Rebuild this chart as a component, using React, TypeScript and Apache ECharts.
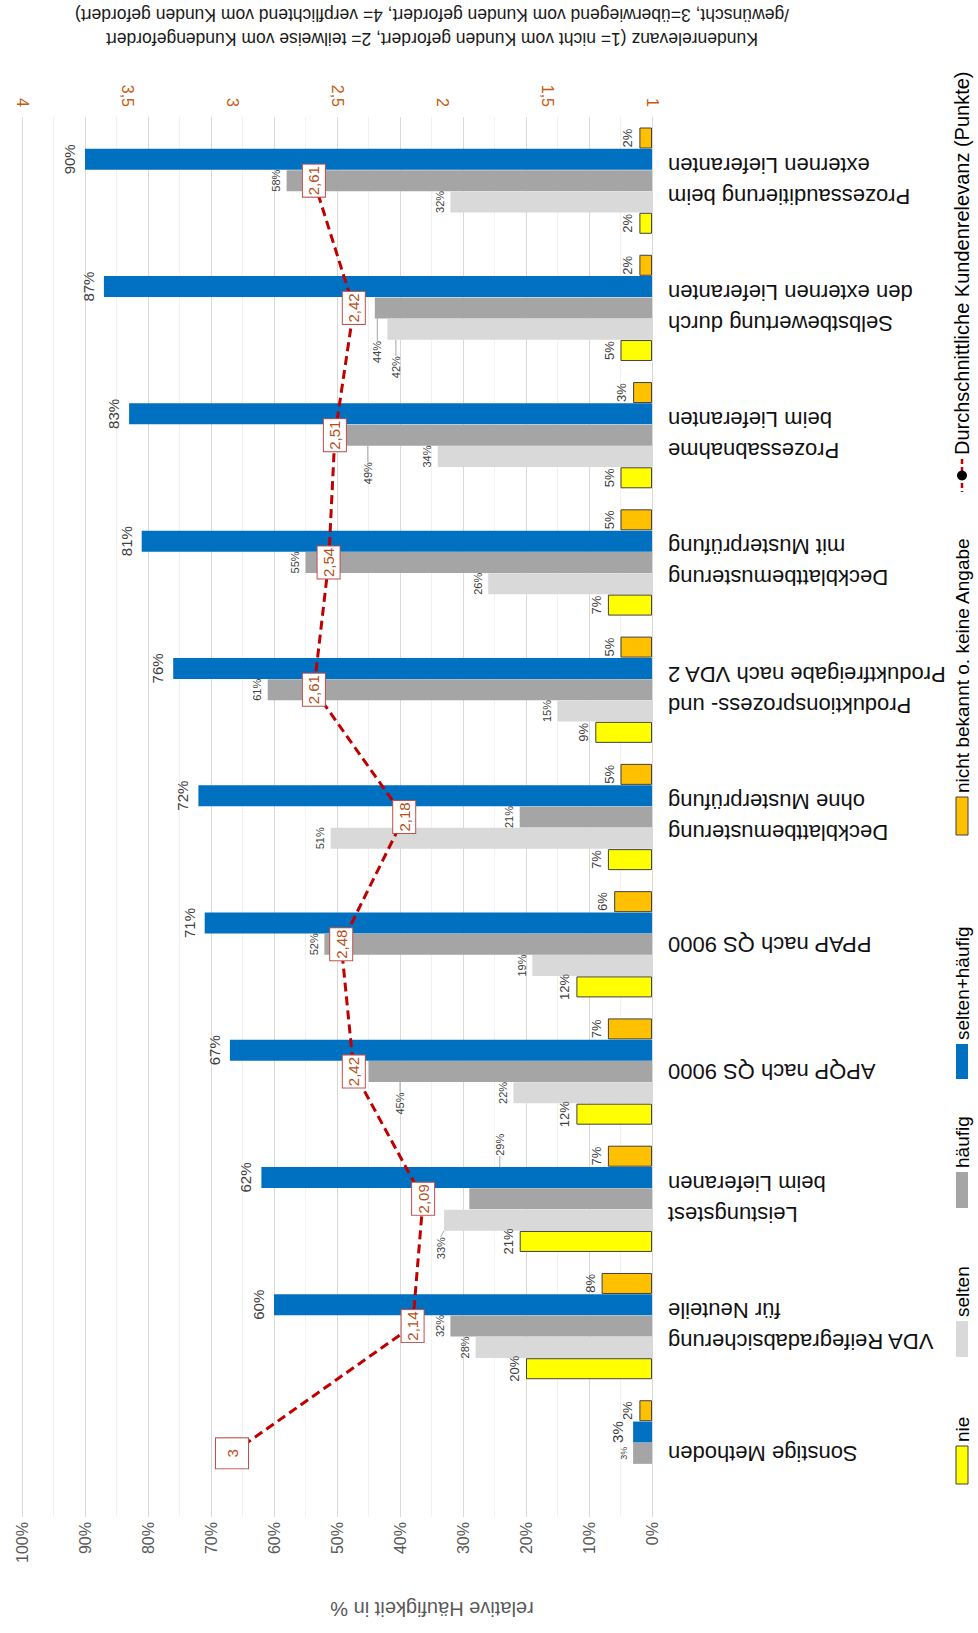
import React, { useEffect, useRef } from "react";
import * as echarts from "echarts";

// ---------- data (category order: bottom -> top) ----------
const categories = [
  "Sonstige Methoden",
  "VDA Reifegradabsicherung\nfür Neuteile",
  "Leistungstest\nbeim Lieferanen",
  "APQP nach QS 9000",
  "PPAP nach QS 9000",
  "Deckblattbemusterung\nohne Musterprüfung",
  "Produktionsprozess- und\nProduktfreigabe nach VDA 2",
  "Deckblattbemusterung\nmit Musterprüfung",
  "Prozessabnahme\nbeim Lieferanten",
  "Selbstbewertung durch\nden externen Lieferanten",
  "Prozessauditierung beim\nexternen Lieferanten",
];
const nie = [null, 20, 21, 12, 12, 7, 9, 7, 5, 5, 2];
const selten = [null, 28, 33, 22, 19, 51, 15, 26, 34, 42, 32];
const haeufig = [3, 32, 29, 45, 52, 21, 61, 55, 49, 44, 58];
const seltenHaeufig = [3, 60, 62, 67, 71, 72, 76, 81, 83, 87, 90];
const nichtBekannt = [2, 8, 7, 7, 6, 5, 5, 5, 3, 2, 2];
const kundenrelevanz = [3, 2.14, 2.09, 2.42, 2.48, 2.18, 2.61, 2.54, 2.51, 2.42, 2.61];

const pctTicks = { min: 0, max: 100, interval: 10 };
const pointTicks = { min: 1, max: 4, interval: 0.5 };

const seriesNames = [
  "nicht bekannt o. keine Angabe",
  "selten+häufig",
  "häufig",
  "selten",
  "nie",
];
const lineName = "Durchschnittliche Kundenrelevanz (Punkte)";

// ---------- styling ----------
const FONT = "Liberation Sans";
const colors = {
  nb: "#FFC000",
  sh: "#0070C0",
  h: "#A5A5A5",
  s: "#D9D9D9",
  n: "#FFFF00",
  line: "#C00000",
};

// screen displacement [right, down] (px) of labels moved with leader lines
const labelOffsets: Record<number, Record<number, [number, number]>> = {
  2: { 9: [13, 44], 8: [35, 38], 3: [42, 32], 2: [41, -54] },
  3: { 9: [19, 38], 2: [7, 28] },
};

const comma = (v: number) => String(v).replace(".", ",");

function withLeader(arr: (number | null)[], sIdx: number, extra?: Record<number, any>) {
  return arr.map((v, i) => {
    const moved = labelOffsets[sIdx] && labelOffsets[sIdx][i];
    const ex = extra && extra[i];
    if (!moved && !ex) return v;
    const item: any = { value: v };
    if (moved) item.labelLine = { show: true };
    if (ex) Object.assign(item, ex);
    return item;
  });
}

function barLabel(fontSize: number, distance = 5) {
  return {
    show: true,
    position: "left",
    rotate: 90,
    align: "center",
    verticalAlign: "bottom",
    distance,
    formatter: "{c}%",
    color: "#404040",
    fontFamily: FONT,
    fontSize,
  };
}

export default function App() {
  const ref = useRef<HTMLDivElement>(null);

  useEffect(() => {
    if (!ref.current) return;
    const chart = echarts.init(ref.current, undefined, { renderer: "svg" });

    const legendItems = [
      { name: lineName, kind: "line", keyTop: 459, keyBottom: 492, fontSize: 20 },
      { name: seriesNames[0], color: colors.nb, border: true, keyTop: 797, keyBottom: 835 },
      { name: seriesNames[1], color: colors.sh, keyTop: 1044, keyBottom: 1079 },
      { name: seriesNames[2], color: colors.h, keyTop: 1172, keyBottom: 1208 },
      { name: seriesNames[3], color: colors.s, keyTop: 1321, keyBottom: 1357 },
      { name: seriesNames[4], color: colors.n, border: true, keyTop: 1446, keyBottom: 1484 },
    ];
    const legendX = 962;
    const graphics: any[] = [];
    legendItems.forEach((it: any) => {
      if (it.kind === "line") {
        graphics.push({
          type: "line",
          shape: { x1: legendX, y1: it.keyTop, x2: legendX, y2: it.keyBottom },
          style: { stroke: colors.line, lineWidth: 2.5, lineDash: [5, 3] },
        });
        graphics.push({
          type: "circle",
          shape: { cx: legendX, cy: (it.keyTop + it.keyBottom) / 2, r: 5 },
          style: { fill: "#000" },
        });
      } else {
        graphics.push({
          type: "rect",
          shape: { x: legendX - 6, y: it.keyTop, width: 12, height: it.keyBottom - it.keyTop },
          style: {
            fill: it.color,
            stroke: it.border ? "#404040" : null,
            lineWidth: it.border ? 1 : 0,
          },
        });
      }
      graphics.push({
        type: "text",
        x: legendX,
        y: it.keyTop - 4,
        rotation: Math.PI / 2,
        style: {
          text: it.name,
          fontFamily: FONT,
          fontSize: it.fontSize || 19,
          fill: "#000",
          align: "left",
          verticalAlign: "middle",
        },
      });
    });
    // axis titles (upside down as in the reference)
    graphics.push({
      type: "text",
      x: 432,
      y: 27,
      rotation: Math.PI,
      style: {
        text:
          "Kundenrelevanz (1= nicht vom Kunden gefordert, 2= teilweise vom Kundengefordert\n/gewünscht, 3=überwiegend vom Kunden gefordert, 4= verpflichtend vom Kunden gefordert)",
        fontFamily: FONT,
        fontSize: 17.5,
        lineHeight: 24,
        fill: "#1a1a1a",
        align: "center",
        verticalAlign: "middle",
      },
    });
    graphics.push({
      type: "text",
      x: 432,
      y: 1609,
      rotation: Math.PI,
      style: {
        text: "relative Häufigkeit in %",
        fontFamily: FONT,
        fontSize: 20,
        fill: "#595959",
        align: "center",
        verticalAlign: "middle",
      },
    });

    const barCommon = {
      type: "bar",
      xAxisIndex: 0,
      yAxisIndex: 0,
      barWidth: 21,
      barGap: "1.5%",
      labelLine: { show: false, lineStyle: { color: "#A6A6A6", width: 1 } },
      // label offsets are applied in the rotated label frame: convert screen -> local
      labelLayout: (p: any) => {
        const o = labelOffsets[p.seriesIndex] && labelOffsets[p.seriesIndex][p.dataIndex];
        return o ? { dx: -o[1], dy: o[0] } : {};
      },
    };

    const option: any = {
      animation: false,
      backgroundColor: "#fff",
      textStyle: { fontFamily: FONT },
      grid: { left: 22, right: 326, top: 117, bottom: 116 },
      xAxis: [
        {
          type: "value",
          ...pctTicks,
          inverse: true,
          position: "bottom",
          axisLine: { show: false },
          axisTick: { show: false },
          axisLabel: {
            rotate: 90,
            margin: 5,
            formatter: "{value}%",
            color: "#595959",
            fontFamily: FONT,
            fontSize: 16,
          },
          splitLine: { show: true, lineStyle: { color: "#D9D9D9", width: 1 } },
          minorTick: { show: false, splitNumber: 2 },
          minorSplitLine: { show: true, lineStyle: { color: "#F1F1F1", width: 1 } },
        },
        {
          type: "value",
          ...pointTicks,
          inverse: true,
          position: "top",
          axisLine: { show: false },
          axisTick: { show: false },
          splitLine: { show: false },
          axisLabel: {
            rotate: 90,
            margin: 10,
            color: "#C55A11",
            fontFamily: FONT,
            fontSize: 16,
            formatter: (v: number) => comma(v),
          },
        },
      ],
      yAxis: {
        type: "category",
        data: categories,
        position: "right",
        axisLine: { show: false },
        axisTick: { show: false },
        axisLabel: {
          interval: 0,
          rotate: 180,
          margin: 16,
          color: "#111",
          fontFamily: FONT,
          fontSize: 22,
          lineHeight: 31,
        },
      },
      graphic: graphics,
      series: [
        {
          ...barCommon,
          name: seriesNames[0],
          data: withLeader(nichtBekannt, 0),
          itemStyle: { color: colors.nb, borderColor: "#404040", borderWidth: 1 },
          label: barLabel(13),
        },
        {
          ...barCommon,
          name: seriesNames[1],
          data: withLeader(seltenHaeufig, 1),
          itemStyle: { color: colors.sh },
          label: barLabel(15, 8),
        },
        {
          ...barCommon,
          name: seriesNames[2],
          data: withLeader(haeufig, 2, { 0: { label: { fontSize: 9 } } }),
          itemStyle: { color: colors.h },
          label: barLabel(11),
        },
        {
          ...barCommon,
          name: seriesNames[3],
          data: withLeader(selten, 3),
          itemStyle: { color: colors.s },
          label: barLabel(11),
        },
        {
          ...barCommon,
          name: seriesNames[4],
          data: withLeader(nie, 4),
          itemStyle: { color: colors.n, borderColor: "#404040", borderWidth: 1 },
          label: barLabel(13),
        },
        {
          type: "line",
          name: lineName,
          xAxisIndex: 1,
          yAxisIndex: 0,
          data: kundenrelevanz.map((v, i) =>
            i === 0 ? { value: v, label: { width: 26, height: 28, lineHeight: 28 } } : v
          ),
          symbol: "circle",
          symbolSize: 2,
          itemStyle: { color: colors.line },
          lineStyle: { color: colors.line, width: 3, type: [9, 5] },
          z: 5,
          label: {
            show: true,
            position: "inside",
            rotate: 90,
            align: "center",
            verticalAlign: "middle",
            formatter: (p: any) => comma(Array.isArray(p.value) ? p.value[0] : p.value),
            color: "#B4501E",
            fontFamily: FONT,
            fontSize: 15,
            width: 28,
            height: 18,
            lineHeight: 18,
            backgroundColor: "#fff",
            borderColor: "#C0504D",
            borderWidth: 1,
            padding: [2, 2, 2, 2],
          },
        },
      ],
    };

    chart.setOption(option);
    return () => chart.dispose();
  }, []);

  return (
    <div
      ref={ref}
      style={{ position: "absolute", left: 0, top: 0, width: 978, height: 1633 }}
    />
  );
}
